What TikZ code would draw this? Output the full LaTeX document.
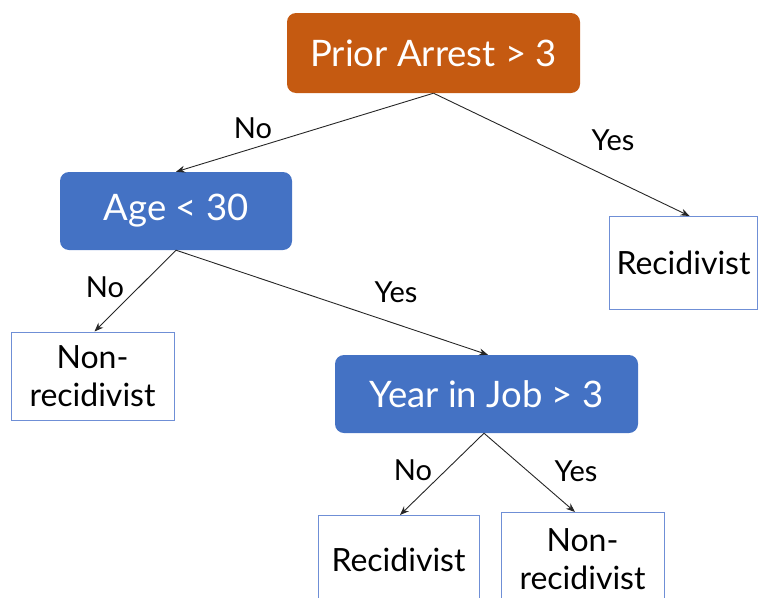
\documentclass[tikz,border=0pt]{standalone}
\usepackage{fontspec}
\setmainfont{Lato}
\usetikzlibrary{arrows.meta}
\definecolor{orangebox}{HTML}{C55A11}
\definecolor{bluebox}{HTML}{4472C4}
\definecolor{leafline}{HTML}{6F8FD6}
\begin{document}
\begin{tikzpicture}[x=1pt,y=-1pt,
  decision/.style={rectangle, rounded corners=9pt, inner sep=0pt, text=white,
     font=\fontsize{36.5}{40}\selectfont},
  leaf/.style={rectangle, draw=leafline, line width=1pt, inner sep=0pt, text=black,
     align=center, font=\fontsize{32}{38}\selectfont},
  leaftext/.style={font=\fontsize{32}{38}\selectfont, text=black, align=center},
  edge/.style={draw=black!85, line width=0.9pt, -{Stealth[length=9pt,width=7pt]}},
  lbl/.style={font=\fontsize{29}{32}\selectfont, text=black}]
\useasboundingbox (0,0) rectangle (760,597);
\clip (0,0) rectangle (760,597);
% decision nodes
\node[decision, fill=orangebox, minimum width=293pt, minimum height=80pt] (root) at (433.5,53) {Prior Arrest > 3};
\node[decision, fill=bluebox, minimum width=232pt, minimum height=78pt] (age) at (176,211) {Age < 30};
\node[decision, fill=bluebox, minimum width=303pt, minimum height=78pt] (job) at (486.5,394) {Year in Job > 3};
% leaves
\node[leaf, minimum width=148pt, minimum height=93pt] (r1) at (683.5,263) {Recidivist};
\node[leaf, minimum width=163pt, minimum height=88pt] (n1) at (92.5,376) {Non-\\recidivist};
\node[leaf, minimum width=161pt, minimum height=100pt, anchor=north] (r2) at (398.5,515) {};
\node[leaf, minimum width=163pt, minimum height=100pt, anchor=north] (n2) at (582.5,512) {};
\node[leaftext] (r2t) at (398.5,560) {Recidivist};
\node[leaftext] (n2t) at (582.5,559) {Non-\\recidivist};
% edges
\draw[edge] (root.south) -- (age.north);
\draw[edge] (root.south) -- ([xshift=6pt]r1.north);
\draw[edge] (age.south) -- ([xshift=2pt]n1.north);
\draw[edge] (age.south) -- ([xshift=1.5pt]job.north);
\draw[edge] ([xshift=-2.5pt]job.south) -- ([xshift=1.5pt]r2.north);
\draw[edge] ([xshift=-2.5pt]job.south) -- ([xshift=-7.5pt]n2.north);
% labels
\node[lbl] (l1) at (253,128) {No};
\node[lbl] (l2) at (613,140) {Yes};
\node[lbl] (l3) at (105,287) {No};
\node[lbl] (l4) at (396,292) {Yes};
\node[lbl] (l5) at (413,470) {No};
\node[lbl] (l6) at (576,471) {Yes};
\end{tikzpicture}
\end{document}
